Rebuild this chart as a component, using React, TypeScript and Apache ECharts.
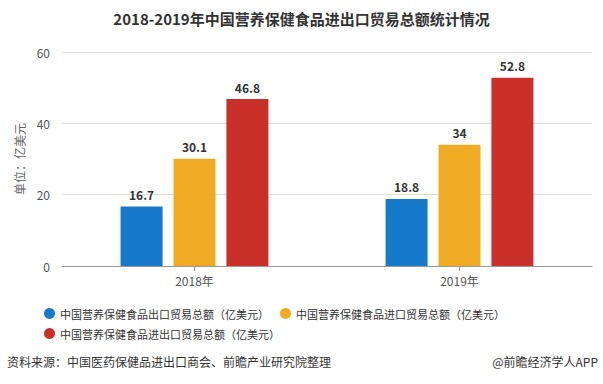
import React, { useEffect, useRef } from "react";
import * as echarts from "echarts";

const categories = ["2018年", "2019年"];
const exportValues = [16.7, 18.8];
const importValues = [30.1, 34];
const totalValues = [46.8, 52.8];
const seriesNames = [
  "中国营养保健食品出口贸易总额（亿美元）",
  "中国营养保健食品进口贸易总额（亿美元）",
  "中国营养保健食品进出口贸易总额（亿美元）",
];
const colors = ["#1779C9", "#EEAB23", "#C9302A"];
const font = "'Noto Sans CJK SC', 'Microsoft YaHei', sans-serif";

export default function App() {
  const ref = useRef<HTMLDivElement>(null);
  useEffect(() => {
    document.body.style.margin = "0";
    if (!ref.current) return;
    const chart = echarts.init(ref.current, null, { renderer: "svg" });
    const label = {
      show: true,
      position: "top",
      fontWeight: "bold",
      color: "#333",
      fontSize: 12,
      fontFamily: font,
      distance: 6,
    };
    const data = [exportValues, importValues, totalValues];
    const legendBase = {
      left: 39,
      itemGap: 11,
      itemWidth: 11,
      itemHeight: 11,
      icon: "circle",
      textStyle: { fontSize: 11, color: "#333", fontFamily: font },
    };
    chart.setOption({
      animation: false,
      backgroundColor: "#fff",
      textStyle: { fontFamily: font },
      title: {
        text: "2018-2019年中国营养保健食品进出口贸易总额统计情况",
        left: "center",
        top: 6,
        textStyle: { fontSize: 15, fontWeight: "bold", color: "#333", fontFamily: font },
      },
      grid: { left: 62, right: 11, top: 52, bottom: 118 },
      legend: [
        { ...legendBase, top: 303, data: seriesNames.slice(0, 2) },
        { ...legendBase, top: 323, data: seriesNames.slice(2) },
      ],
      xAxis: {
        type: "category",
        data: categories,
        axisLine: { lineStyle: { color: "#999" } },
        axisTick: { show: true, alignWithLabel: true, lineStyle: { color: "#999" } },
        axisLabel: { color: "#555", fontSize: 12, margin: 8 },
      },
      yAxis: {
        type: "value",
        min: 0,
        max: 60,
        interval: 20,
        name: "单位：亿美元",
        nameLocation: "middle",
        nameGap: 29,
        nameTextStyle: { color: "#666", fontSize: 12 },
        axisLine: { show: false },
        axisTick: { show: false },
        axisLabel: { color: "#555", fontSize: 12, margin: 12 },
        splitLine: { lineStyle: { color: "#ddd" } },
      },
      series: seriesNames.map((name, i) => ({
        name,
        type: "bar",
        data: data[i],
        barWidth: 42,
        barGap: "26%",
        itemStyle: { color: colors[i] },
        label,
      })),
      graphic: [
        {
          type: "text",
          left: 7,
          top: 355,
          style: {
            text: "资料来源：中国医药保健品进出口商会、前瞻产业研究院整理",
            fill: "#333",
            fontSize: 12,
            fontFamily: font,
          },
        },
        {
          type: "text",
          right: 5,
          top: 355,
          style: { text: "@前瞻经济学人APP", fill: "#333", fontSize: 12, fontFamily: font },
        },
      ],
    });
    return () => chart.dispose();
  }, []);
  return <div ref={ref} style={{ width: 603, height: 384 }} />;
}
